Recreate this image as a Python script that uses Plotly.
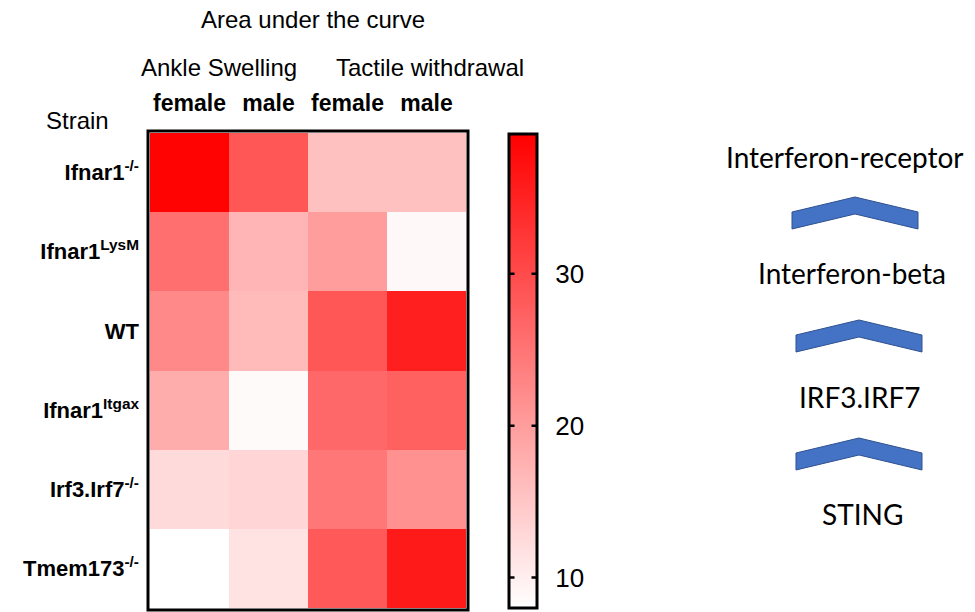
import plotly.graph_objects as go

W, H = 975, 612
def px(x): return x / W
def py(y): return 1 - y / H

strains = ["Ifnar1<sup>-/-</sup>", "Ifnar1<sup>LysM</sup>", "WT", "Ifnar1<sup>Itgax</sup>",
           "Irf3.Irf7<sup>-/-</sup>", "Tmem173<sup>-/-</sup>"]
columns = ["female", "male", "female", "male"]
groups = ["Ankle Swelling", "Tactile withdrawal"]
auc = [
    [39.0, 28.7, 15.7, 15.7],
    [25.6, 17.1, 20.1, 8.8],
    [22.5, 16.4, 28.7, 35.4],
    [18.1, 8.6, 26.5, 27.4],
    [12.5, 13.1, 24.7, 21.4],
    [8.0, 11.6, 28.3, 36.0],
]
zmin, zmax = 8.0, 39.2
cbar_ticks = [10, 20, 30]
pathway = ["Interferon-receptor", "Interferon-beta", "IRF3.IRF7", "STING"]

ARIAL = "Liberation Sans, Arial, sans-serif"
CAL = "Lato, Carlito, Calibri, sans-serif"

# heatmap geometry (pixels)
HX0, HX1, HY0, HY1 = 150, 466, 133, 608
CB_X0, CB_Y0, CB_Y1, CB_T = 509, 134, 608, 28

fig = go.Figure(go.Heatmap(
    z=auc, x=list(range(4)), y=list(range(6)),
    colorscale=[[0, "#ffffff"], [1, "#ff0000"]], zmin=zmin, zmax=zmax,
    showscale=True,
    colorbar=dict(
        x=px(CB_X0), xanchor="left", xpad=0,
        y=py(CB_Y1), yanchor="bottom", ypad=0,
        len=(CB_Y1 - CB_Y0) / H, lenmode="fraction",
        thickness=CB_T, outlinewidth=3, outlinecolor="black",
        tickvals=cbar_ticks, ticks="outside", ticklen=12, tickwidth=1,
        tickcolor="rgba(0,0,0,0)",
        tickfont=dict(family=ARIAL, size=26, color="black"),
    ),
    hoverinfo="skip",
))

fig.update_layout(
    width=W, height=H, margin=dict(l=0, r=0, t=0, b=0),
    paper_bgcolor="white", plot_bgcolor="white",
    xaxis=dict(domain=[px(HX0), px(HX1)], side="top", tickvals=list(range(4)),
               ticktext=[f"<b>{c}</b>" for c in columns], ticks="",
               tickfont=dict(family=ARIAL, size=23, color="black"),
               showgrid=False, zeroline=False, automargin=False, ticklabelstandoff=16,
               range=[-0.5, 3.5]),
    yaxis=dict(domain=[py(HY1), py(HY0)], tickvals=list(range(6)),
               ticktext=[f"<b>{s}</b>" for s in strains], ticks="",
               tickfont=dict(family=ARIAL, size=22, color="black"),
               showgrid=False, zeroline=False, automargin=False, ticklabelstandoff=10,
               range=[5.5, -0.5]),
    showlegend=False,
)

shapes = [dict(type="rect", xref="paper", yref="paper",
               x0=px(HX0 - 2), x1=px(HX1 + 2), y0=py(HY1 + 2), y1=py(HY0 - 2),
               line=dict(color="black", width=3))]
# chevrons
for (cx, cy) in [(855, 197), (859, 320), (859, 438)]:
    pts = [(cx - 63, cy + 15), (cx, cy), (cx + 63, cy + 15), (cx + 63, cy + 32),
           (cx, cy + 17), (cx - 63, cy + 32)]
    path = "M " + " L ".join(f"{px(x):.5f},{py(y):.5f}" for x, y in pts) + " Z"
    shapes.append(dict(type="path", xref="paper", yref="paper", path=path,
                       fillcolor="#4472C4", line=dict(color="#2F528F", width=1)))
fig.update_layout(shapes=shapes)

# dashes on both sides of the colour bar (annotation arrows sit above the bar)
for v in cbar_ticks:
    yy = CB_Y1 - (v - zmin) / (zmax - zmin) * (CB_Y1 - CB_Y0)
    for (a, d) in [(CB_X0, 7), (CB_X0 + CB_T, -7)]:
        fig.add_annotation(text="", x=px(a), y=py(yy), xref="paper", yref="paper",
                           showarrow=True, arrowhead=0, arrowwidth=2.5, arrowcolor="black",
                           ax=d, ay=0, standoff=0, startstandoff=0)

ann = [
    dict(text="Area under the curve", x=px(313), y=py(20), size=24, fam=ARIAL),
    dict(text=groups[0], x=px(219), y=py(67), size=24, fam=ARIAL),
    dict(text=groups[1], x=px(430), y=py(67), size=24, fam=ARIAL),
    dict(text="Strain", x=px(77), y=py(121), size=24, fam=ARIAL),
]
for t, (x, y) in zip(pathway, [(845, 157), (852, 273), (860, 397), (862, 514)]):
    ann.append(dict(text=t, x=px(x), y=py(y), size=28, fam=CAL))
for a in ann:
    fig.add_annotation(text=a["text"], x=a["x"], y=a["y"], xref="paper", yref="paper",
                       xanchor="center", yanchor="middle", showarrow=False,
                       font=dict(family=a["fam"], size=a["size"], color="black"))

fig.write_html("out.html")
